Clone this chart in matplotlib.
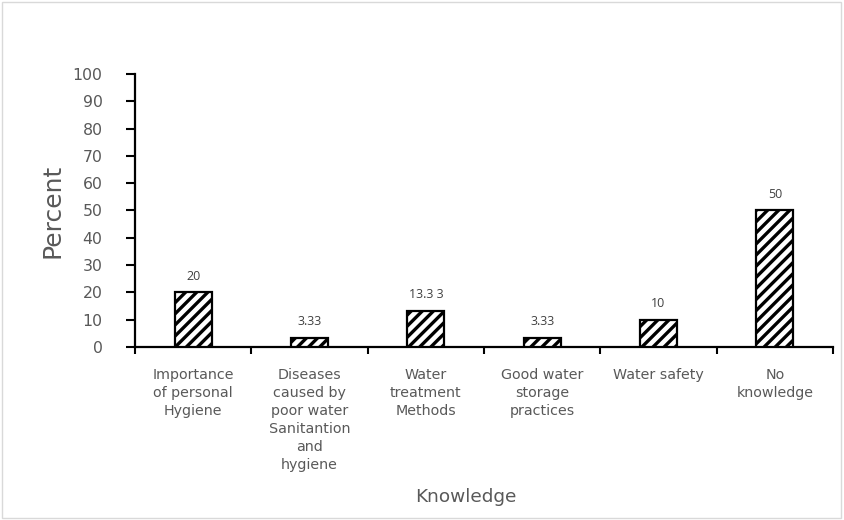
import numpy as np
import matplotlib
matplotlib.use('Agg')
import matplotlib.pyplot as plt
from matplotlib.patches import Rectangle


categories = [
    'Importance\nof personal\nHygiene',
    'Diseases\ncaused by\npoor water\nSanitantion\nand\nhygiene',
    'Water\ntreatment\nMethods',
    'Good water\nstorage\npractices',
    'Water safety',
    'No\nknowledge',
]
percent = [20, 3.33, 13.33, 3.33, 10, 50]
bar_labels = ['20', '3.33', '13.3 3', '3.33', '10', '50']
y_ticks = list(range(0, 101, 10))

TEXT_GREY = '#595959'
plt.rcParams['hatch.linewidth'] = 2.4
plt.rcParams['font.family'] = ['DejaVu Sans']

fig = plt.figure(figsize=(8.44, 5.2), dpi=100)
fig.patch.set_facecolor('white')
fig.add_artist(Rectangle((0.002, 0.003), 0.995, 0.993, transform=fig.transFigure,
                         fill=False, edgecolor='#d9d9d9', linewidth=1))

ax = fig.add_axes([0.16, 0.3327, 0.827, 0.525])
x = np.arange(len(categories))
bars = ax.bar(x, percent, width=0.32, color='white', edgecolor='black',
              linewidth=1.6, hatch='///', zorder=3)

# value labels above bars
for bar, label in zip(bars, bar_labels):
    ax.annotate(label, (bar.get_x() + bar.get_width() / 2, bar.get_height()),
                xytext=(0, 7), textcoords='offset points',
                ha='center', va='bottom', fontsize=9, color='#404040',
                family=['Open Sans', 'DejaVu Sans'])

ax.set_xlim(-0.5, len(categories) - 0.5)
ax.set_ylim(0, 100)
ax.set_yticks(y_ticks)
ax.set_yticklabels([str(t) for t in y_ticks], fontsize=11.3, color=TEXT_GREY)

# x ticks sit on category boundaries, labels at category centres
ax.set_xticks(np.arange(len(categories) + 1) - 0.5)
ax.set_xticklabels([])
ax.set_xticks(x, minor=True)
ax.set_xticklabels(categories, minor=True, fontsize=10.3, color=TEXT_GREY,
                   va='top', linespacing=1.36)
ax.tick_params(axis='x', which='minor', length=0, pad=15)
ax.tick_params(axis='x', which='major', direction='out', length=5, width=1.5)
ax.tick_params(axis='y', direction='out', length=6.5, width=1.5, pad=17)

for side in ['top', 'right']:
    ax.spines[side].set_visible(False)
for side in ['left', 'bottom']:
    ax.spines[side].set_linewidth(1.6)

ax.set_ylabel('Percent', fontsize=18, color=TEXT_GREY, labelpad=6)
fig.text(0.552, 0.044, 'Knowledge', ha='center', va='center',
         fontsize=13.3, color=TEXT_GREY)

fig.savefig('out.png', dpi=100)
